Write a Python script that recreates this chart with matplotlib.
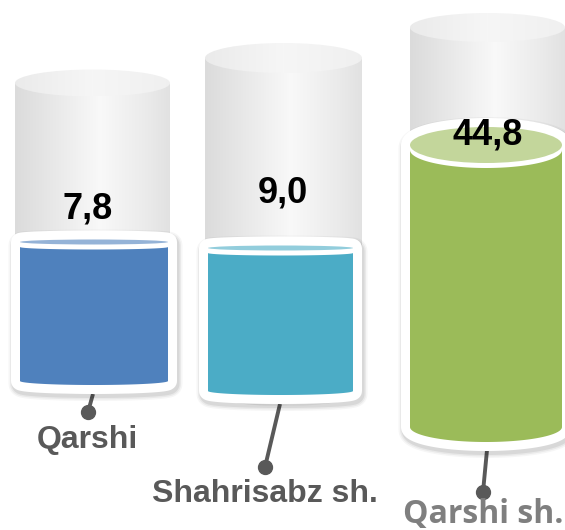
import matplotlib
matplotlib.use('Agg')
import matplotlib.pyplot as plt
import numpy as np
from matplotlib.path import Path
from matplotlib.patches import PathPatch, Ellipse
from matplotlib.transforms import Affine2D

# data
categories = ['Qarshi', 'Shahrisabz sh.', 'Qarshi sh.']
values = [7.8, 9.0, 44.8]
value_labels = ['7,8', '9,0', '44,8']
body_colors = ['#4f81bd', '#4bacc6', '#9bbb59']
top_colors = ['#95b3d7', '#92cddc', '#c3d69b']

# layout (pixel coordinates, y goes down)
tank_cx = [92.5, 283.5, 487.5]
tank_hw = [77.5, 78.5, 77.5]
tank_top = [83, 58, 27.5]
tank_ry = [13.5, 15, 14.5]

cup_cx = [94, 280.5, 486]
cup_hw = [74, 72.5, 76]
cup_top = [242, 248, 145]
cup_top_ry = [2.5, 2.5, 18]
cup_bot = [381, 391, 427]
cup_bot_ry = [4, 4, 15]
rim = 9

value_y = [218, 203, 145]
value_x = [88, 283, 488]
lead_start = [(93, 394), (280, 404), (487, 450)]
lead_end = [(88, 412), (265, 467), (483, 492)]
label_xy = [(87, 448), (265, 502), (483, 523)]
label_colors = ['#595959', '#595959', '#7f7f7f']
label_fonts = ['Liberation Sans', 'Liberation Sans', 'Open Sans']


def arc(cx, cy, a, b, t0, t1, n=80):
    t = np.linspace(t0, t1, n)
    return np.column_stack([cx + a * np.cos(t), cy + b * np.sin(t)])


def closed(pts):
    pts = np.vstack([pts, pts[:1]])
    codes = [Path.MOVETO] + [Path.LINETO] * (len(pts) - 2) + [Path.CLOSEPOLY]
    return Path(pts, codes)


def gradient_fill(ax, patch, x0, x1, y0, y1, stops, vals, z):
    ax.add_patch(patch)
    xs = np.linspace(0, 1, 200)
    g = np.interp(xs, stops, vals)
    img = np.dstack([g, g, g]).reshape(1, 200, 3)
    im = ax.imshow(img, extent=(x0, x1, y1, y0), aspect='auto', zorder=z,
                   interpolation='bilinear')
    im.set_clip_path(patch)


fig = plt.figure(figsize=(5.65, 5.30), dpi=100)
ax = fig.add_axes([0, 0, 1, 1])
ax.set_xlim(0, 565)
ax.set_ylim(530, 0)
ax.axis('off')

for i in range(3):
    # gray tank
    cx, hw, ty, ry = tank_cx[i], tank_hw[i], tank_top[i], tank_ry[i]
    by = cup_bot[i]
    body = np.vstack([[cx - hw, ty], arc(cx, by, hw, ry, np.pi, 0), [cx + hw, ty]])
    p = PathPatch(closed(body), facecolor='none', edgecolor='none', zorder=1)
    gradient_fill(ax, p, cx - hw, cx + hw, ty - ry, by + ry,
                  [0, 0.15, 0.55, 0.85, 1], [0.86, 0.89, 0.975, 0.92, 0.885], 1)
    top = Ellipse((cx, ty), 2 * hw, 2 * ry, facecolor='none', edgecolor='none', zorder=2)
    gradient_fill(ax, top, cx - hw, cx + hw, ty - ry, ty + ry,
                  [0, 0.5, 1], [0.92, 0.965, 0.94], 2)

    # colored cup with white rim and soft shadow
    cx, w, ty, ry = cup_cx[i], cup_hw[i], cup_top[i], cup_top_ry[i]
    by, rb = cup_bot[i], cup_bot_ry[i]
    outer = np.vstack([arc(cx, ty, w, ry, np.pi, 2 * np.pi), arc(cx, by, w, rb, 0, np.pi)])
    opath = closed(outer)
    for lw, a in [(2 * rim + 8, 0.035), (2 * rim + 5, 0.05), (2 * rim + 2, 0.07)]:
        sh = PathPatch(opath, facecolor=(0, 0, 0, a), edgecolor=(0, 0, 0, a), lw=lw * 0.72,
                       joinstyle='round', zorder=3,
                       transform=Affine2D().translate(1.5, 3) + ax.transData)
        ax.add_patch(sh)
    ax.add_patch(PathPatch(opath, facecolor='white', edgecolor='white', lw=2 * rim * 0.72,
                           joinstyle='round', zorder=4))
    gap = 5
    inner = np.vstack([arc(cx, ty + gap, w, ry, np.pi, 0), arc(cx, by, w, rb, 0, np.pi)])
    ax.add_patch(PathPatch(closed(inner), facecolor=body_colors[i], edgecolor='none', zorder=5))
    ax.add_patch(Ellipse((cx, ty), 2 * w, 2 * ry, facecolor=top_colors[i],
                         edgecolor='none', zorder=5))

    # value label
    ax.text(value_x[i], value_y[i], value_labels[i], ha='center', va='baseline',
            fontsize=26, fontweight='bold', family='Liberation Sans', color='black', zorder=10)

    # leader line and category label
    (x0, y0), (x1, y1) = lead_start[i], lead_end[i]
    ax.plot([x0, x1], [y0, y1], color='#595959', lw=2.8, solid_capstyle='butt', zorder=2.5)
    ax.plot([x1], [y1], 'o', color='#595959', markersize=10, zorder=2.5)
    lx, ly = label_xy[i]
    ax.text(lx, ly, categories[i], ha='center', va='baseline', fontsize=23,
            fontweight='bold', family=label_fonts[i], color=label_colors[i], zorder=10)

fig.savefig('out.png', dpi=100)
